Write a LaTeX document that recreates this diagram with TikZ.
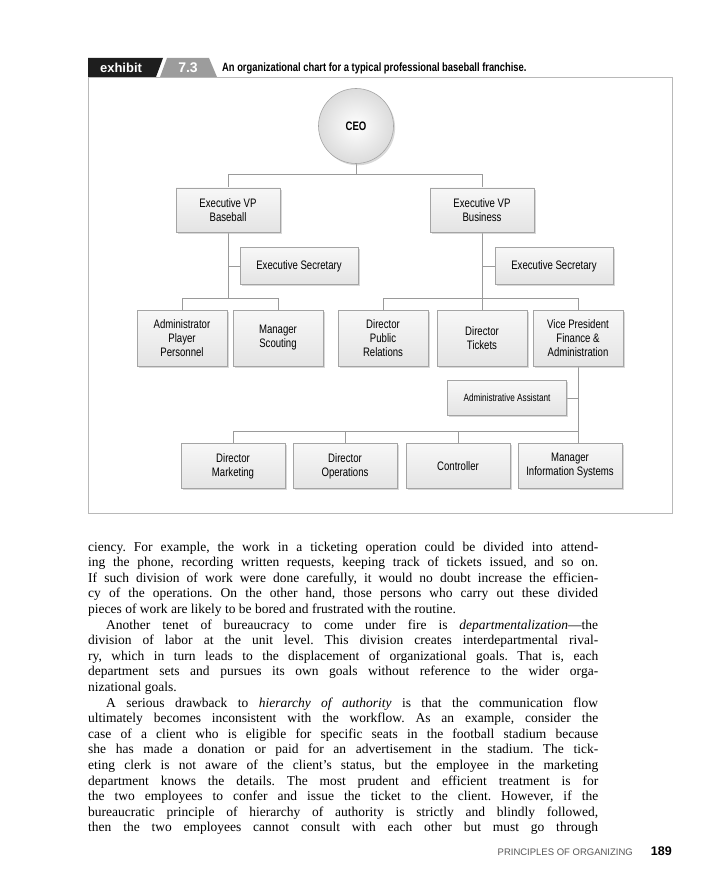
\documentclass[tikz,border=0pt]{standalone}
\usepackage{fontspec}
\setmainfont{Liberation Serif}
\newfontfamily\cond[FakeStretch=0.78]{Liberation Sans}
\newfontfamily\hsans{Liberation Sans}
\usetikzlibrary{shadows,backgrounds}
\definecolor{linegray}{HTML}{9A9A9A}
\definecolor{boxborder}{HTML}{A4A4A4}
\definecolor{boxfill}{HTML}{E4E4E4}
\definecolor{framegray}{HTML}{B8B8B8}
\definecolor{tabgray}{HTML}{9C9C9C}
\definecolor{tabblack}{HTML}{1E1E1E}
\definecolor{footgray}{HTML}{555555}
\begin{document}
\frenchspacing
\begin{tikzpicture}[x=1pt,y=-1pt,
  orgbox/.style={draw=boxborder, line width=0.6pt, top color=white!97!black, bottom color=boxfill,
    drop shadow={shadow xshift=1.6pt, shadow yshift=-1.8pt, fill=black!30},
    align=center, inner sep=2pt, font=\cond\fontsize{12.3}{14}\selectfont},
  conn/.style={draw=linegray, line width=0.8pt},
  bodyline/.style={anchor=base west, inner sep=0pt, font=\fontsize{13.5}{15.6}\selectfont},
]
\useasboundingbox (0,0) rectangle (716,896);

% header
\fill[tabblack] (88,58) -- (163,58) -- (156,77) -- (88,77) -- cycle;
\fill[tabgray] (167,58) -- (209,58) -- (217,77) -- (160,77) -- cycle;
\node[text=white, font=\hsans\bfseries\fontsize{13}{13}\selectfont, inner sep=0] (exh) at (121,68) {exhibit};
\node[text=white, font=\hsans\bfseries\fontsize{14}{14}\selectfont, inner sep=0] (num) at (188,68) {7.3};
\node[anchor=west, font=\cond\bfseries\fontsize{12}{12}\selectfont, inner sep=0] (cap) at (222,68) {An organizational chart for a typical professional baseball franchise.};

% frame
\draw[framegray, line width=0.9pt] (88,77) rectangle (672,513);

% CEO
\node[circle, draw=boxborder, line width=0.6pt, minimum size=75pt, inner color=white, outer color=black!14,
  drop shadow={shadow xshift=1.6pt, shadow yshift=-1.8pt, fill=black!30},
  font=\cond\bfseries\fontsize{12.3}{14}\selectfont] (ceo) at (356,126) {CEO};

% level 2
\node[orgbox, minimum width=104pt, minimum height=44pt] (evpb) at (228,210) {Executive VP\\Baseball};
\node[orgbox, minimum width=104pt, minimum height=44pt] (evpbiz) at (482,210) {Executive VP\\Business};

% secretaries
\node[orgbox, minimum width=118pt, minimum height=37pt] (es1) at (299,266) {Executive Secretary};
\node[orgbox, minimum width=118pt, minimum height=37pt] (es2) at (554,266) {Executive Secretary};

% level 3
\node[orgbox, minimum width=90pt, minimum height=56pt] (apl) at (182,338) {Administrator\\Player\\Personnel};
\node[orgbox, minimum width=90pt, minimum height=56pt] (ms) at (278,338) {Manager\\Scouting};
\node[orgbox, minimum width=90pt, minimum height=56pt] (dpr) at (383,338) {Director\\Public\\Relations};
\node[orgbox, minimum width=90pt, minimum height=56pt] (dt) at (482,338) {Director\\Tickets};
\node[orgbox, minimum width=90pt, minimum height=56pt] (vpf) at (578,338) {Vice President\\Finance \&\\Administration};

% admin assistant
\node[orgbox, minimum width=119pt, minimum height=35pt, font=\cond\fontsize{10.5}{12}\selectfont] (aa) at (507,398) {Administrative Assistant};

% level 5
\node[orgbox, minimum width=104pt, minimum height=45pt] (dm) at (233,466) {Director\\Marketing};
\node[orgbox, minimum width=104pt, minimum height=45pt] (do) at (345,466) {Director\\Operations};
\node[orgbox, minimum width=104pt, minimum height=45pt] (ctl) at (458,466) {Controller};
\node[orgbox, minimum width=104pt, minimum height=45pt] (mis) at (570,466) {Manager\\Information Systems};

% bus coordinates
\coordinate (bus1) at (356,174);
\coordinate (bus2) at (356,298);
\coordinate (bus3) at (356,431);

\begin{scope}[on background layer]
\draw[conn] (ceo.south) -- (bus1);
\draw[conn] (evpb.north) -- (evpb.north |- bus1) -- (evpbiz.north |- bus1) -- (evpbiz.north);
\draw[conn] (evpb.south) -- (evpb.south |- bus2);
\draw[conn] (es1.west) -- (es1.west -| evpb.south);
\draw[conn] (apl.north) -- (apl.north |- bus2) -- (ms.north |- bus2) -- (ms.north);
\draw[conn] (evpbiz.south) -- (dt.north);
\draw[conn] (es2.west) -- (es2.west -| evpbiz.south);
\draw[conn] (dpr.north) -- (dpr.north |- bus2) -- (vpf.north |- bus2) -- (vpf.north);
\draw[conn] (vpf.south) -- (vpf.south |- mis.north);
\draw[conn] (aa.east) -- (aa.east -| vpf.south);
\draw[conn] (dm.north) -- (dm.north |- bus3) -- (vpf.south |- bus3);
\draw[conn] (do.north) -- (do.north |- bus3);
\draw[conn] (ctl.north) -- (ctl.north |- bus3);
\end{scope}

% body text
\node[bodyline] (t1) at (88,551) {\makebox[510pt][s]{ciency. For example, the work in a ticketing operation could be divided into attend-}};
\node[bodyline] (t2) at (88,566.6) {\makebox[510pt][s]{ing the phone, recording written requests, keeping track of tickets issued, and so on.}};
\node[bodyline] (t3) at (88,582.2) {\makebox[510pt][s]{If such division of work were done carefully, it would no doubt increase the efficien-}};
\node[bodyline] (t4) at (88,597.8) {\makebox[510pt][s]{cy of the operations. On the other hand, those persons who carry out these divided}};
\node[bodyline] (t5) at (88,613.4) {pieces of work are likely to be bored and frustrated with the routine.};
\node[bodyline] (t6) at (88,629.0) {\makebox[510pt][s]{\hspace*{18pt}Another tenet of bureaucracy to come under fire is \textit{departmentalization}---the}};
\node[bodyline] (t7) at (88,644.6) {\makebox[510pt][s]{division of labor at the unit level. This division creates interdepartmental rival-}};
\node[bodyline] (t8) at (88,660.2) {\makebox[510pt][s]{ry, which in turn leads to the displacement of organizational goals. That is, each}};
\node[bodyline] (t9) at (88,675.8) {\makebox[510pt][s]{department sets and pursues its own goals without reference to the wider orga-}};
\node[bodyline] (t10) at (88,691.4) {nizational goals.};
\node[bodyline] (t11) at (88,707.0) {\makebox[510pt][s]{\hspace*{18pt}A serious drawback to \textit{hierarchy of authority} is that the communication flow}};
\node[bodyline] (t12) at (88,722.6) {\makebox[510pt][s]{ultimately becomes inconsistent with the workflow. As an example, consider the}};
\node[bodyline] (t13) at (88,738.2) {\makebox[510pt][s]{case of a client who is eligible for specific seats in the football stadium because}};
\node[bodyline] (t14) at (88,753.8) {\makebox[510pt][s]{she has made a donation or paid for an advertisement in the stadium. The tick-}};
\node[bodyline] (t15) at (88,769.4) {\makebox[510pt][s]{eting clerk is not aware of the client's status, but the employee in the marketing}};
\node[bodyline] (t16) at (88,785.0) {\makebox[510pt][s]{department knows the details. The most prudent and efficient treatment is for}};
\node[bodyline] (t17) at (88,800.6) {\makebox[510pt][s]{the two employees to confer and issue the ticket to the client. However, if the}};
\node[bodyline] (t18) at (88,816.2) {\makebox[510pt][s]{bureaucratic principle of hierarchy of authority is strictly and blindly followed,}};
\node[bodyline] (t19) at (88,831.8) {\makebox[510pt][s]{then the two employees cannot consult with each other but must go through}};

% footer
\node[anchor=base east, inner sep=0, text=footgray, font=\hsans\fontsize{9.5}{9.5}\selectfont] (run) at (633,855) {PRINCIPLES OF ORGANIZING};
\node[anchor=base east, inner sep=0, font=\hsans\bfseries\fontsize{12.5}{12.5}\selectfont] (pg) at (672,855) {189};
\end{tikzpicture}
\end{document}
